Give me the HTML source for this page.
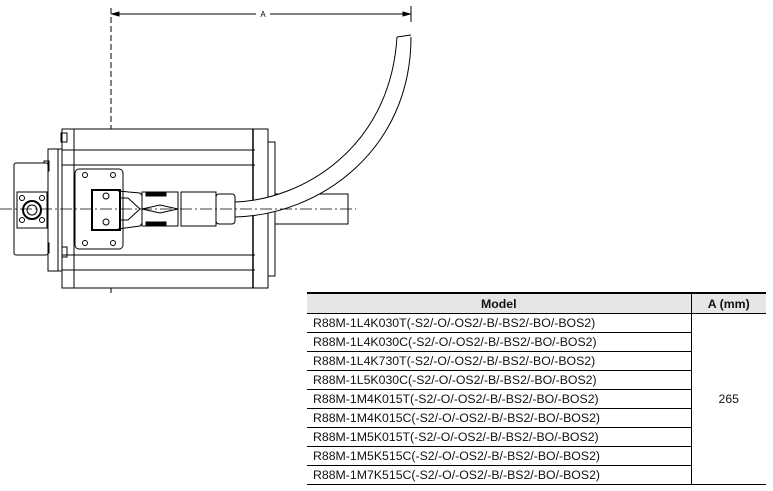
<!DOCTYPE html>
<html><head><style>
body{margin:0;background:#fff;width:773px;height:491px;overflow:hidden;position:relative;font-family:"Liberation Sans",Arial,sans-serif}
svg{position:absolute;left:0;top:0}
table{position:absolute;left:307px;top:292px;border-collapse:collapse;font-size:12.3px;color:#111;table-layout:fixed}
td,th{height:18px;padding:0 0 0 6px;border-bottom:1px solid #000;white-space:nowrap}
th{background:#e6e6e6;border-top:2px solid #000;font-weight:bold;height:19px}
</style></head><body>
<svg width="773" height="491" viewBox="0 0 773 491" fill="none" stroke="#000" stroke-width="1">
<!-- dimension -->
<line x1="111" y1="8" x2="111" y2="296" stroke-dasharray="6,3"/>
<line x1="411" y1="6" x2="411" y2="22"/>
<line x1="112" y1="14" x2="256" y2="14"/><line x1="270" y1="14" x2="410" y2="14"/>
<path d="M112 14 l7 -2 v4z M410 14 l-7 -2 v4z" fill="#000"/>
<text x="263" y="17" font-size="8" fill="#000" stroke="none" text-anchor="middle" font-family="Liberation Sans">A</text>
<!-- shaft -->
<rect x="275" y="194" width="73" height="30" fill="#fff"/>
<!-- right flange -->
<rect x="268" y="142" width="7" height="134" fill="#fff"/>
<!-- body -->
<rect x="62" y="129" width="206" height="159" fill="#fff"/>
<line x1="74" y1="129" x2="74" y2="288"/><line x1="253" y1="129" x2="253" y2="288" stroke-width="1.5"/>
<line x1="62" y1="150" x2="255" y2="150"/><line x1="62" y1="165" x2="255" y2="165"/>
<line x1="62" y1="255" x2="255" y2="255"/><line x1="62" y1="270" x2="255" y2="270"/>
<rect x="61" y="133" width="6" height="9"/><rect x="61" y="247" width="6" height="10"/>
<!-- cable -->
<path d="M235 202 C300 200 390 150 397 37 L411 35 C411 150 320 215 235 217Z" fill="#fff" stroke="none"/>
<path d="M235 202 C300 200 390 150 397 37"/>
<path d="M235 217 C320 215 411 150 411 37"/>
<line x1="397" y1="37" x2="411" y2="35"/>
<!-- left flange -->
<rect x="48" y="149" width="14" height="122" fill="#fff"/>
<line x1="58" y1="149" x2="58" y2="271"/>
<rect x="44" y="161" width="5" height="10"/><rect x="44" y="243" width="5" height="10"/>
<!-- encoder -->
<rect x="14" y="163" width="34" height="92" rx="2" fill="#fff"/>
<rect x="17" y="192" width="30" height="36" fill="#fff"/>
<circle cx="32" cy="210" r="9" stroke-width="2"/><circle cx="32" cy="210" r="5"/>
<circle cx="22" cy="198" r="2.5"/><circle cx="42" cy="198" r="2.5"/><circle cx="22" cy="220" r="2.5"/><circle cx="42" cy="220" r="2.5"/>
<!-- plate -->
<rect x="75" y="169" width="48" height="80" rx="4" fill="#fff"/>
<circle cx="85" cy="175" r="2.5"/><circle cx="113" cy="175" r="2.5"/><circle cx="85" cy="243" r="2.5"/><circle cx="113" cy="243" r="2.5"/>
<rect x="92" y="190" width="28" height="40" stroke-width="2" fill="#fff"/>
<circle cx="106" cy="196" r="3"/><circle cx="106" cy="222" r="3"/>
<path d="M118 191 L140 193 L150 206 L150 212 L140 226 L118 229 M119 198 L128 198 L140 209 L128 220 L119 220"/>
<rect x="142" y="192" width="36" height="34" fill="#fff"/>
<rect x="146" y="192" width="20" height="4" fill="#000"/><rect x="146" y="222" width="20" height="4" fill="#000"/>
<path d="M142 209 L160 205 L178 209 L160 213Z"/>
<rect x="181" y="192" width="35" height="34" fill="#fff"/>
<rect x="216" y="194" width="19" height="30" rx="3" fill="#fff"/>
<!-- centerline -->
<line x1="0" y1="209" x2="356" y2="209" stroke-dasharray="12,3,2,3" stroke-width="0.8"/>
</svg>
<table>
<colgroup><col style="width:384px"><col style="width:75px"></colgroup>
<tr><th style="text-align:center;padding:0">Model</th><th style="text-align:center;padding:0;border-left:1px solid #000">A (mm)</th></tr>
<tr><td>R88M-1L4K030T(-S2/-O/-OS2/-B/-BS2/-BO/-BOS2)</td><td rowspan="9" style="text-align:center;padding:0;border-left:1px solid #000">265</td></tr>
<tr><td>R88M-1L4K030C(-S2/-O/-OS2/-B/-BS2/-BO/-BOS2)</td></tr>
<tr><td>R88M-1L4K730T(-S2/-O/-OS2/-B/-BS2/-BO/-BOS2)</td></tr>
<tr><td>R88M-1L5K030C(-S2/-O/-OS2/-B/-BS2/-BO/-BOS2)</td></tr>
<tr><td>R88M-1M4K015T(-S2/-O/-OS2/-B/-BS2/-BO/-BOS2)</td></tr>
<tr><td>R88M-1M4K015C(-S2/-O/-OS2/-B/-BS2/-BO/-BOS2)</td></tr>
<tr><td>R88M-1M5K015T(-S2/-O/-OS2/-B/-BS2/-BO/-BOS2)</td></tr>
<tr><td>R88M-1M5K515C(-S2/-O/-OS2/-B/-BS2/-BO/-BOS2)</td></tr>
<tr><td>R88M-1M7K515C(-S2/-O/-OS2/-B/-BS2/-BO/-BOS2)</td></tr>
</table>
</body></html>
